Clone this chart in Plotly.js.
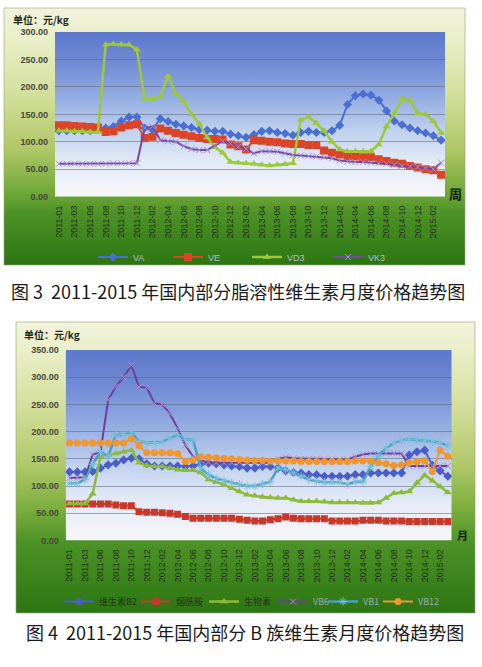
<!DOCTYPE html>
<html><head><meta charset="utf-8">
<script src="https://cdn.plot.ly/plotly-3.0.1.min.js"></script>
<style>html,body{margin:0;padding:0;background:#fff;}#chart{width:482px;height:667px;}</style>
</head><body><div id="chart"></div>
<script>
// ---------- DATA ----------
const months = ['2011-01','2011-02','2011-03','2011-04','2011-06','2011-07','2011-08','2011-09','2011-10','2011-11',
'2011-12','2012-01','2012-02','2012-03','2012-04','2012-05','2012-06','2012-07','2012-08','2012-09',
'2012-10','2012-11','2012-12','2013-01','2013-02','2013-03','2013-04','2013-05','2013-06','2013-07',
'2013-08','2013-09','2013-10','2013-11','2013-12','2014-01','2014-02','2014-03','2014-04','2014-05',
'2014-06','2014-07','2014-08','2014-09','2014-10','2014-11','2014-12','2015-01','2015-02','2015-03'];
const tickLabels = ['2011-01','2011-03','2011-06','2011-08','2011-10','2011-12','2012-02','2012-04','2012-06',
'2012-08','2012-10','2012-12','2013-02','2013-04','2013-06','2013-08','2013-10','2013-12','2014-02',
'2014-04','2014-06','2014-08','2014-10','2014-12','2015-02'];

// Fig 3: fat-soluble vitamins
const vaPrices = [120,120,120,120,120,122,125,128,138,145,145,125,122,142,137,132,129,126,122,121,
119,119,114,111,108,113,119,120,117,115,112,117,119,117,117,120,130,168,184,187,
185,176,156,138,131,125,120,116,111,103];
const vePrices = [130,130,129,128,127,126,118,119,126,130,132,107,109,124,120,116,113,110,107,105,
105,104,95,92,86,103,102,100,99,97,96,96,94,94,84,80,77,74,73,72,
72,68,65,62,60,56,53,50,48,40];
const vd3Prices = [120,120,119,119,118,118,277,278,277,277,268,178,178,182,220,188,174,150,133,108,
90,80,63,62,61,60,58,57,58,59,61,140,145,134,120,100,86,83,83,83,
83,95,128,152,178,175,152,150,138,116];
const vk3Prices = [60,60,60,60,60,60,60,61,61,61,61,125,128,103,101,100,92,87,85,85,
93,101,97,91,87,79,83,83,82,79,76,75,74,73,72,70,66,64,63,63,
62,61,60,58,56,55,54,52,50,62];

// Fig 4: B-group vitamins
const b2Prices = [126,126,126,127,133,139,142,148,151,150,141,137,137,137,137,136,137,140,142,141,
139,137,136,133,133,136,136,133,128,125,124,121,121,118,118,118,118,121,121,124,
124,124,124,124,157,163,166,138,128,118];
const niacinamidePrices = [67,67,67,67,67,67,65,64,64,53,52,52,51,50,48,44,41,41,41,41,
41,41,39,37,36,36,38,40,43,41,40,40,40,40,36,36,36,36,37,37,
37,36,36,36,35,35,35,35,35,35];
const biotinPrices = [68,68,68,86,154,157,160,163,166,143,138,136,136,133,130,129,129,125,112,107,
103,96,90,84,82,80,79,78,78,75,72,72,72,71,70,70,70,70,69,69,
70,78,87,88,90,106,120,110,99,88];
const vb6Prices = [115,115,116,158,162,258,283,300,322,282,281,252,250,233,206,175,154,147,144,143,
143,143,143,142,142,142,143,150,153,151,150,150,150,150,150,149,149,154,158,160,
160,160,161,160,137,137,137,137,137,137];
const vb1Prices = [105,105,112,140,163,155,194,195,199,182,180,180,181,188,194,186,185,133,121,114,
110,106,103,100,100,104,108,133,130,124,118,112,109,107,107,107,103,108,108,136,
155,170,179,184,186,185,184,182,180,174];
const vb12Prices = [179,179,179,179,179,179,179,179,187,174,161,161,161,161,160,145,148,154,153,152,
151,150,149,148,147,147,146,146,146,146,145,145,145,145,145,145,145,146,146,146,
143,141,138,139,143,145,147,127,166,155];

// ---------- LAYOUT HELPERS ----------
const W = 482, H = 667;
const px = v => v / W, py = v => 1 - v / H;
const P1 = {l:55, r:445, t:32, b:196.7};
const P2 = {l:65.7, r:451.7, t:350, b:540.5};

function gradSvg(stops){
  let s = "<svg xmlns='http://www.w3.org/2000/svg' width='100' height='100' preserveAspectRatio='none'><defs><linearGradient id='g' x1='0' y1='0' x2='0' y2='1'>";
  stops.forEach(st => { s += "<stop offset='" + st[0] + "' stop-color='" + st[1] + "'/>"; });
  s += "</linearGradient></defs><rect width='100' height='100' fill='url(#g)'/></svg>";
  return 'data:image/svg+xml;charset=utf-8,' + encodeURIComponent(s);
}
const greenStops1 = [[0,'#f1f3dc'],[0.12,'#eaefc8'],[0.35,'#d2dd98'],[0.55,'#aec766'],[0.7,'#78ac3c'],[0.8,'#4c9226'],[1,'#2c7612']];
const greenStops2 = [[0,'#f1f3dc'],[0.1,'#eaefc8'],[0.3,'#d2dd98'],[0.5,'#aec766'],[0.64,'#7cae3e'],[0.76,'#4c9226'],[1,'#2c7612']];
const blueStops = [[0,'#5c78cb'],[0.2,'#728cd5'],[0.4,'#94ade1'],[0.6,'#c0d1ee'],[0.78,'#e2e9f6'],[1,'#f7f7fa']];

function img(src, l, t, r, b){
  return {source: src, xref:'paper', yref:'paper', x: px(l), y: py(t), sizex: (r-l)/W, sizey: (b-t)/H,
          xanchor:'left', yanchor:'top', sizing:'stretch', layer:'below'};
}

const tickFont = {family:'Liberation Sans, Arial, sans-serif', size:9, color:'#263020'};
const yTickFont = {family:'Liberation Sans, Arial, sans-serif', size:9, color:'#46483a', weight:'bold'};
const cjk = 'Noto Sans CJK SC, sans-serif';

function tr(y, name, color, symbol, msize, xa, ya, lg, lw, mcolor){
  const thin = /^(x|asterisk|cross)/.test(symbol);
  return {x: months, y: y, name: name, type:'scatter', mode:'lines+markers', xaxis: xa, yaxis: ya, legend: lg,
    line:{color: color, width: lw || 2},
    marker:{symbol: symbol, size: msize, color: mcolor || color, line:{width: thin ? 1 : 0, color: mcolor || color}}};
}

const data = [
  tr(vaPrices, 'VA', '#4a6fd2', 'diamond', 7, 'x', 'y', 'legend'),
  tr(vePrices, 'VE', '#dc4428', 'square', 8, 'x', 'y', 'legend2'),
  tr(vd3Prices, 'VD3', '#9cc83a', 'triangle-up', 7, 'x', 'y', 'legend3', 2.5),
  tr(vk3Prices, 'VK3', '#7448a8', 'x-thin', 6, 'x', 'y', 'legend4', 2, '#a68ccc'),
  tr(b2Prices, '维生素B2', '#4a5ec8', 'diamond', 7, 'x2', 'y2', 'legend5'),
  tr(niacinamidePrices, '烟酰胺', '#c8382a', 'square', 7, 'x2', 'y2', 'legend6'),
  tr(biotinPrices, '生物素', '#8cba3a', 'triangle-up', 7, 'x2', 'y2', 'legend7', 2.5),
  tr(vb6Prices, 'VB6', '#6e3e9e', 'x-thin', 6, 'x2', 'y2', 'legend8', 2, '#a88cc8'),
  tr(vb1Prices, 'VB1', '#4a9ec4', 'asterisk', 7, 'x2', 'y2', 'legend9', 2.5, '#7cc0dc'),
  tr(vb12Prices, 'VB12', '#f0962c', 'circle', 7, 'x2', 'y2', 'legend10')
];

function xAxis(P, anchor){
  return {domain:[px(P.l), px(P.r)], anchor: anchor, type:'category', range:[-0.5, months.length-0.5],
    tickmode:'array', tickvals: tickLabels, ticktext: tickLabels, tickangle:-90, tickfont: tickFont,
    showgrid:false, showline:false, zeroline:false, ticks:'', ticklabelstandoff: 6, fixedrange:true};
}
function yAxis(P, anchor, max){
  return {domain:[py(P.b), py(P.t)], anchor: anchor, range:[0, max], dtick:50, tickformat:'.2f',
    tickfont: yTickFont, showgrid:true, gridcolor:'rgba(90,104,124,0.55)', gridwidth:1, zeroline:false,
    showline:false, ticks:'', ticklabelstandoff: 6, fixedrange:true};
}

function leg(xLeft, yMid, fontFamily, color){
  return {orientation:'h', x: px(xLeft), xanchor:'left', y: py(yMid), yanchor:'middle', bgcolor:'rgba(0,0,0,0)',
    font:{family: fontFamily, size:9, color: color}, itemwidth:30, borderwidth:0};
}
const latin = 'Liberation Sans, Arial, sans-serif';

const layout = {
  width: W, height: H, margin:{l:0,r:0,t:0,b:0}, paper_bgcolor:'#ffffff', plot_bgcolor:'rgba(0,0,0,0)',
  showlegend:true,
  xaxis: xAxis(P1, 'y'), yaxis: yAxis(P1, 'x', 300),
  xaxis2: xAxis(P2, 'y2'), yaxis2: yAxis(P2, 'x2', 350),
  legend: leg(93, 257, latin, '#b0bccc'),
  legend2: leg(168, 257, latin, '#b0bccc'),
  legend3: leg(247, 257, latin, '#b0bccc'),
  legend4: leg(328, 257, latin, '#b0bccc'),
  legend5: leg(59, 601.5, cjk, '#27341f'),
  legend6: leg(136, 601.5, cjk, '#27341f'),
  legend7: leg(204, 601.5, cjk, '#27341f'),
  legend8: leg(273, 601.5, cjk, '#9aa8b8'),
  legend9: leg(323, 601.5, cjk, '#9aa8b8'),
  legend10: leg(378, 601.5, cjk, '#9aa8b8'),
  images: [
    img(gradSvg(greenStops1), 4, 8, 465, 265),
    img(gradSvg(blueStops), P1.l, P1.t, P1.r, P1.b),
    img(gradSvg(greenStops2), 16, 322, 475, 613),
    img(gradSvg(blueStops), P2.l, P2.t, P2.r, P2.b)
  ],
  shapes: [
    {type:'rect', xref:'paper', yref:'paper', x0: px(4), x1: px(465), y0: py(265), y1: py(8), line:{color:'rgba(150,160,130,0.6)', width:1}, layer:'below'},
    {type:'rect', xref:'paper', yref:'paper', x0: px(16), x1: px(475), y0: py(613), y1: py(322), line:{color:'rgba(150,160,130,0.6)', width:1}, layer:'below'}
  ],
  annotations: [
    {text:'单位：元/kg', xref:'paper', yref:'paper', x: px(11), y: py(19), xanchor:'left', yanchor:'middle', showarrow:false,
      font:{family: cjk, size:10, color:'#1e2a18', weight:'bold'}},
    {text:'周', xref:'paper', yref:'paper', x: px(455), y: py(194), xanchor:'center', yanchor:'middle', showarrow:false,
      font:{family: cjk, size:13, color:'#10180c', weight:'bold'}},
    {text:'图 3  2011-2015 年国内部分脂溶性维生素月度价格趋势图', xref:'paper', yref:'paper', x: px(238), y: py(290.5), xanchor:'center', yanchor:'middle', showarrow:false,
      font:{family: cjk, size:18, color:'#1a1a1a'}},
    {text:'单位：元/kg', xref:'paper', yref:'paper', x: px(22), y: py(334), xanchor:'left', yanchor:'middle', showarrow:false,
      font:{family: cjk, size:10, color:'#1e2a18', weight:'bold'}},
    {text:'月', xref:'paper', yref:'paper', x: px(462), y: py(535), xanchor:'center', yanchor:'middle', showarrow:false,
      font:{family: cjk, size:11, color:'#10180c', weight:'bold'}},
    {text:'图 4  2011-2015 年国内部分 B 族维生素月度价格趋势图', xref:'paper', yref:'paper', x: px(244.5), y: py(632), xanchor:'center', yanchor:'middle', showarrow:false,
      font:{family: cjk, size:18, color:'#1a1a1a'}}
  ]
};

Plotly.newPlot('chart', data, layout, {staticPlot:true, displayModeBar:false});
</script></body></html>
